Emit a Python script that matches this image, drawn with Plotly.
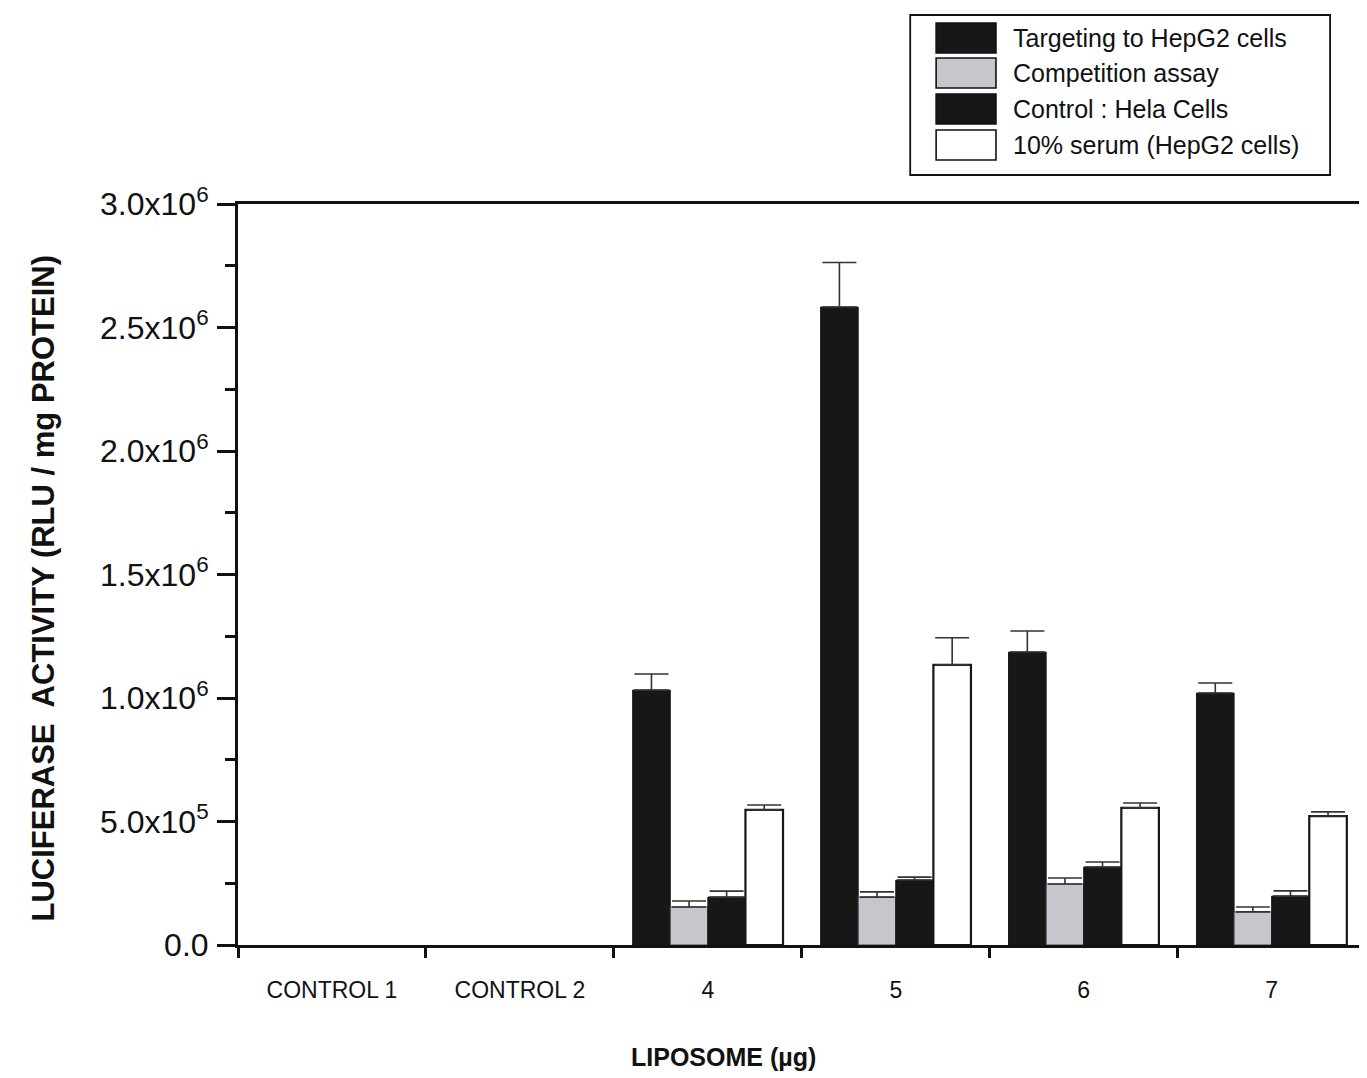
import plotly.graph_objects as go

# ---------------- data ----------------
categories = ["CONTROL 1", "CONTROL 2", "4", "5", "6", "7"]

targeting = [None, None, 1.032e6, 2.583e6, 1.186e6, 1.020e6]
targeting_err = [0, 0, 0.065e6, 0.180e6, 0.085e6, 0.041e6]

competition = [None, None, 0.154e6, 0.194e6, 0.247e6, 0.134e6]
competition_err = [0, 0, 0.024e6, 0.021e6, 0.024e6, 0.020e6]

hela = [None, None, 0.194e6, 0.263e6, 0.316e6, 0.198e6]
hela_err = [0, 0, 0.024e6, 0.012e6, 0.020e6, 0.021e6]

serum = [None, None, 0.547e6, 1.134e6, 0.555e6, 0.522e6]
serum_err = [0, 0, 0.020e6, 0.110e6, 0.020e6, 0.017e6]

series_names = ["Targeting to HepG2 cells", "Competition assay",
                "Control : Hela Cells", "10% serum (HepG2 cells)"]

ytick_vals = [0, 0.5e6, 1.0e6, 1.5e6, 2.0e6, 2.5e6, 3.0e6]
ytick_text = ["0.0", "5.0x10<sup>5</sup>", "1.0x10<sup>6</sup>", "1.5x10<sup>6</sup>",
              "2.0x10<sup>6</sup>", "2.5x10<sup>6</sup>", "3.0x10<sup>6</sup>"]

# ---------------- style ----------------
W, H = 1367, 1078
OFF = 8  # page body margin offset
# plot-area edges in page pixels
PL, PR, PT, PB = 238, 1363, 204, 945
L, R, T, B = PL - OFF, PR - OFF, PT - OFF, PB - OFF
FONT = "Liberation Sans, Arial, sans-serif"
BLACK = "#171717"
GRAY = "#c6c6cc"

fills = [BLACK, GRAY, BLACK, "white"]
outlines = [BLACK, "#444444", BLACK, BLACK]
outline_w = [1, 1, 1, 2.2]
values = [targeting, competition, hela, serum]
errors = [targeting_err, competition_err, hela_err, serum_err]

fig = go.Figure()
for name, v, e, fc, lc, lw in zip(series_names, values, errors, fills, outlines, outline_w):
    fig.add_trace(go.Bar(
        x=categories, y=v, name=name,
        marker=dict(color=fc, line=dict(color=lc, width=lw)),
        error_y=dict(type="data", array=e, arrayminus=[0] * len(e), symmetric=False,
                     color="#333333", thickness=1.6, width=17),
        showlegend=False,
    ))

fig.update_layout(
    width=W, height=H,
    margin=dict(l=L, r=W - R, t=T, b=H - B, pad=0),
    paper_bgcolor="white", plot_bgcolor="white",
    barmode="group", bargap=0.2, bargroupgap=0,
    font=dict(family=FONT, color="#111111"),
    xaxis=dict(
        type="category", range=[-0.5, 5.47],
        showline=True, linecolor="#111111", linewidth=3, mirror=True,
        ticks="outside", tickson="boundaries", ticklen=10, tickwidth=3, tickcolor="#111111",
        tickfont=dict(size=23, family=FONT, color="#111111"),
        ticklabelstandoff=22,
        showgrid=False, zeroline=False,
    ),
    xaxis2=dict(
        overlaying="x", anchor="y", type="linear", range=[-0.5, 5.47],
        tick0=-0.5, dtick=1, ticks="inside", ticklen=9, tickwidth=3, tickcolor="#111111",
        showticklabels=False, showline=False, showgrid=False, zeroline=False,
    ),
    yaxis=dict(
        range=[0, 3.0e6],
        showline=True, linecolor="#111111", linewidth=3, mirror=True,
        ticks="outside", ticklen=18, tickwidth=3, tickcolor="#111111",
        tickvals=ytick_vals, ticktext=ytick_text,
        tickfont=dict(size=32, family=FONT, color="#111111"),
        ticklabelstandoff=2,
        minor=dict(ticks="outside", ticklen=10, tickwidth=2.5, tickcolor="#111111",
                   dtick=250000, showgrid=False),
        showgrid=False, zeroline=False,
    ),
)

# helpers: page pixel -> paper coordinates
def pxx(x):
    return (x - PL) / (PR - PL)

def pyy(y):
    return (PB - y) / (PB - PT)

# axis titles
fig.add_annotation(text="<b>LUCIFERASE  ACTIVITY (RLU / mg PROTEIN)</b>",
                   xref="paper", yref="paper", x=pxx(42), y=pyy(588),
                   xanchor="center", yanchor="middle",
                   textangle=-90, showarrow=False,
                   font=dict(size=31, family=FONT, color="#111111"))
fig.add_annotation(text="<b>LIPOSOME (µg)</b>", xref="paper", yref="paper",
                   x=pxx(725), y=pyy(1057), xanchor="center", yanchor="middle",
                   showarrow=False,
                   font=dict(size=25, family=FONT, color="#111111"))

# custom legend box
fig.add_shape(type="rect", xref="paper", yref="paper",
              x0=pxx(912), x1=pxx(1333), y0=pyy(15), y1=pyy(175),
              line=dict(color="#111111", width=1.8), fillcolor="white", layer="above")
rows = [(23, 53), (58, 88), (94, 124), (130, 160)]
for (y0, y1), name, fc in zip(rows, series_names, fills):
    fig.add_shape(type="rect", xref="paper", yref="paper",
                  x0=pxx(938), x1=pxx(998), y0=pyy(y1), y1=pyy(y0),
                  line=dict(color="#111111", width=1.6), fillcolor=fc, layer="above")
    fig.add_annotation(text=name, xref="paper", yref="paper",
                       x=pxx(1013), y=pyy((y0 + y1) / 2), xanchor="left", yanchor="middle",
                       showarrow=False,
                       font=dict(size=25, family=FONT, color="#111111"))

fig.write_html("out.html")
